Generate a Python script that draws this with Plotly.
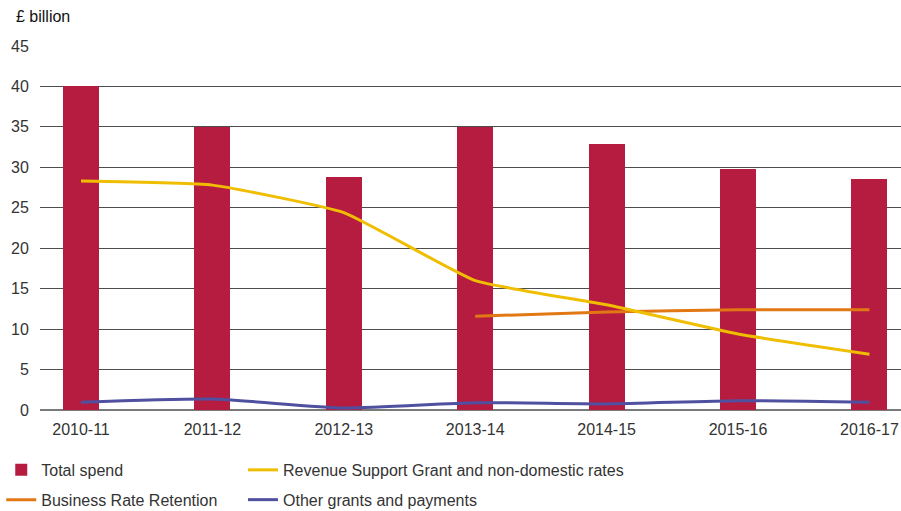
import plotly.graph_objects as go

years = ["2010-11", "2011-12", "2012-13", "2013-14", "2014-15", "2015-16", "2016-17"]
total_spend = [40.0, 35.0, 28.8, 35.0, 32.9, 29.8, 28.6]
rsg_ndr = [28.3, 27.8, 24.4, 16.0, 13.0, 9.4, 6.9]
brr = [None, None, None, 11.6, 12.1, 12.4, 12.4]
other = [0.95, 1.35, 0.25, 0.9, 0.75, 1.15, 0.95]
y_ticks = [0, 5, 10, 15, 20, 25, 30, 35, 40, 45]

xpos = list(range(len(years)))
FONT = "Liberation Sans, Arial, sans-serif"
TXT = "#333333"

fig = go.Figure()
fig.add_trace(go.Bar(
    x=xpos, y=total_spend, name="Total spend", width=0.274,
    marker=dict(color="#B51C40", line=dict(width=0)),
    legend="legend", legendgroup="a",
))
fig.add_trace(go.Scatter(
    x=xpos, y=brr, name="Business Rate Retention", mode="lines",
    line=dict(color="#E27814", width=3, shape="spline", smoothing=0.4),
    legend="legend", legendgroup="b",
))
fig.add_trace(go.Scatter(
    x=xpos, y=rsg_ndr, name="Revenue Support Grant and non-domestic rates", mode="lines",
    line=dict(color="#F0BE00", width=3, shape="spline", smoothing=0.4),
    legend="legend2", legendgroup="c",
))
fig.add_trace(go.Scatter(
    x=xpos, y=other, name="Other grants and payments", mode="lines",
    line=dict(color="#5050A0", width=3, shape="spline", smoothing=0.6),
    legend="legend2", legendgroup="d",
))

leg_common = dict(
    orientation="v", yanchor="top", xanchor="left", y=-0.118,
    font=dict(family=FONT, size=16, color=TXT),
    bgcolor="rgba(0,0,0,0)", traceorder="grouped", tracegroupgap=6,
    itemclick=False, itemdoubleclick=False,
)

fig.update_layout(
    width=901, height=511,
    margin=dict(l=40, r=0, t=46, b=101, autoexpand=False),
    paper_bgcolor="white", plot_bgcolor="white",
    font=dict(family=FONT, size=16, color=TXT),
    showlegend=True,
    legend=dict(x=-0.045, **leg_common),
    legend2=dict(x=0.2358, **leg_common),
    xaxis=dict(
        range=[-0.312, 6.24], tickmode="array", tickvals=xpos, ticktext=years,
        showgrid=False, zeroline=False, showline=False,
        ticks="outside", ticklen=5, tickcolor="rgba(0,0,0,0)",
        tickfont=dict(family=FONT, size=16, color=TXT), fixedrange=True,
        automargin=False,
    ),
    yaxis=dict(
        range=[0, 45], tickmode="array", tickvals=y_ticks,
        showgrid=True, gridcolor="#4d4d4d", gridwidth=1,
        zeroline=True, zerolinecolor="#7a7a7a", zerolinewidth=2,
        showline=False,
        ticks="outside", ticklen=7, tickcolor="rgba(0,0,0,0)",
        tickfont=dict(family=FONT, size=16, color=TXT), fixedrange=True,
        automargin=False,
    ),
    bargap=0,
    annotations=[dict(
        text="£ billion", xref="paper", yref="paper",
        x=-26 / 861, y=1 + 30 / 364, xanchor="left", yanchor="middle",
        showarrow=False, font=dict(family=FONT, size=16, color="#111111"),
    )],
)

# remove the default page margin so the 901x511 figure fills the window exactly
fig.write_html(
    "out.html",
    config={"displayModeBar": False},
    post_script="document.body.style.margin='0px';",
)
